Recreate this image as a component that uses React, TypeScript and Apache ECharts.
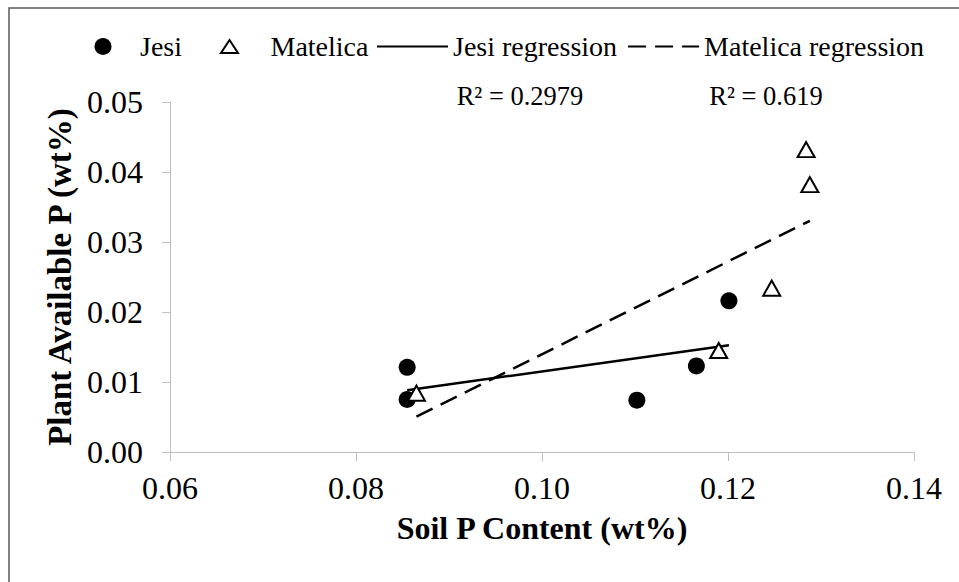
import React, { useEffect, useRef } from "react";
import * as echarts from "echarts";

const jesiX = [0.0855, 0.0855, 0.1102, 0.1166, 0.1201];
const jesiY = [0.0121, 0.0075, 0.0074, 0.0123, 0.0216];
const matelicaX = [0.0865, 0.119, 0.1247, 0.1284, 0.1288];
const matelicaY = [0.0084, 0.0145, 0.0234, 0.0432, 0.0382];
const xTicks = [0.06, 0.08, 0.1, 0.12, 0.14];
const yTicks = [0, 0.01, 0.02, 0.03, 0.04, 0.05];
const seriesNames = ["Jesi", "Matelica", "Jesi regression", "Matelica regression"];
const r2Labels = ["R² = 0.2979", "R² = 0.619"];

const FONT = "'Liberation Serif', 'Times New Roman', serif";

function fitLine(xs: number[], ys: number[]): number[][] {
  const n = xs.length;
  const mx = xs.reduce((a, b) => a + b, 0) / n;
  const my = ys.reduce((a, b) => a + b, 0) / n;
  let sxy = 0;
  let sxx = 0;
  for (let i = 0; i < n; i++) {
    sxy += (xs[i] - mx) * (ys[i] - my);
    sxx += (xs[i] - mx) * (xs[i] - mx);
  }
  const b = sxy / sxx;
  const a = my - b * mx;
  const x0 = Math.min(...xs);
  const x1 = Math.max(...xs);
  return [
    [x0, a + b * x0],
    [x1, a + b * x1],
  ];
}

const legendText = { fontFamily: FONT, fontSize: 28, color: "#000" };

export default function App() {
  const ref = useRef<HTMLDivElement>(null);
  useEffect(() => {
    if (!ref.current) return;
    const chart = echarts.init(ref.current, undefined, { renderer: "svg" });
    const jesiPts = jesiX.map((x, i) => [x, jesiY[i]]);
    const matPts = matelicaX.map((x, i) => [x, matelicaY[i]]);
    chart.setOption({
      animation: false,
      backgroundColor: "#ffffff",
      textStyle: { fontFamily: FONT, color: "#000" },
      grid: { left: 170, right: 45, top: 102, bottom: 130 },
      legend: [
        {
          data: [seriesNames[0]],
          left: 94.5,
          top: 32.5,
          padding: 0,
          itemWidth: 64,
          itemHeight: 17,
          textStyle: legendText,
        },
        {
          data: [{ name: seriesNames[1], icon: "path://M8.5,0L17,13L0,13Z" }],
          left: 220,
          top: 32.5,
          padding: 0,
          itemWidth: 72,
          itemHeight: 13,
          textStyle: legendText,
        },
        {
          data: [
            { name: seriesNames[2], itemStyle: { opacity: 0, color: "rgba(0,0,0,0)", borderWidth: 0 } },
            { name: seriesNames[3], itemStyle: { opacity: 0, color: "rgba(0,0,0,0)", borderWidth: 0 } },
          ],
          left: 376,
          top: 32.5,
          padding: 0,
          itemWidth: 71,
          itemHeight: 17,
          itemGap: 10,
          textStyle: legendText,
        },
      ],
      xAxis: {
        type: "value",
        min: xTicks[0],
        max: xTicks[xTicks.length - 1],
        interval: 0.02,
        name: "Soil P Content (wt%)",
        nameLocation: "middle",
        nameGap: 60,
        nameTextStyle: { fontFamily: FONT, fontSize: 32, fontWeight: "bold", color: "#000" },
        axisLine: { show: true, lineStyle: { color: "#bfbfbf", width: 1 } },
        axisTick: { show: true, length: 9, lineStyle: { color: "#bfbfbf" } },
        axisLabel: {
          margin: 20,
          fontFamily: FONT,
          fontSize: 32,
          color: "#000",
          formatter: (v: number) => v.toFixed(2),
        },
        splitLine: { show: false },
      },
      yAxis: {
        type: "value",
        min: yTicks[0],
        max: yTicks[yTicks.length - 1],
        interval: 0.01,
        name: "Plant Available P (wt%)",
        nameLocation: "middle",
        nameGap: 90,
        nameTextStyle: { fontFamily: FONT, fontSize: 33, fontWeight: "bold", color: "#000" },
        axisLine: { show: true, lineStyle: { color: "#bfbfbf", width: 1 } },
        axisTick: { show: true, length: 8, lineStyle: { color: "#bfbfbf" } },
        axisLabel: {
          margin: 27,
          fontFamily: FONT,
          fontSize: 32,
          color: "#000",
          formatter: (v: number) => v.toFixed(2),
        },
        splitLine: { show: false },
      },
      graphic: [
        {
          type: "rect",
          shape: { x: 9, y: 8, width: 2000, height: 2000 },
          style: { fill: "none", stroke: "#595959", lineWidth: 1.5 },
          silent: true,
        },
        {
          type: "text",
          x: 520,
          y: 96,
          style: {
            text: r2Labels[0],
            fontFamily: FONT,
            fontSize: 26.5,
            fill: "#000",
            textAlign: "center",
            textVerticalAlign: "middle",
          },
        },
        {
          type: "text",
          x: 766,
          y: 96,
          style: {
            text: r2Labels[1],
            fontFamily: FONT,
            fontSize: 26.5,
            fill: "#000",
            textAlign: "center",
            textVerticalAlign: "middle",
          },
        },
      ],
      series: [
        {
          name: seriesNames[2],
          type: "line",
          data: fitLine(jesiX, jesiY),
          symbol: "none",
          lineStyle: { color: "#000", width: 2.5, type: "solid" },
          itemStyle: { color: "#000" },
          z: 2,
        },
        {
          name: seriesNames[3],
          type: "line",
          data: fitLine(matelicaX, matelicaY),
          symbol: "none",
          lineStyle: { color: "#000", width: 2.5, type: [18, 9] },
          itemStyle: { color: "#000" },
          z: 2,
        },
        {
          name: seriesNames[0],
          type: "scatter",
          data: jesiPts,
          symbol: "circle",
          symbolSize: 17,
          itemStyle: { color: "#000", opacity: 1 },
          z: 3,
        },
        {
          name: seriesNames[1],
          type: "scatter",
          data: matPts,
          symbol: "triangle",
          symbolSize: [17, 15],
          itemStyle: { color: "#fff", borderColor: "#000", borderWidth: 2, opacity: 1 },
          z: 4,
        },
      ],
    });
    return () => chart.dispose();
  }, []);
  return (
    <div
      ref={ref}
      style={{ position: "fixed", left: 0, top: 0, width: 959, height: 582, background: "#fff" }}
    />
  );
}
